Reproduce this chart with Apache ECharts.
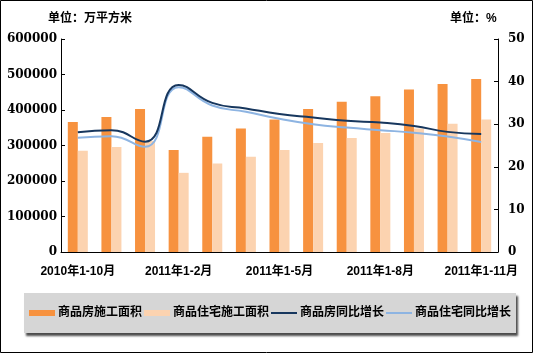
<!DOCTYPE html>
<html>
<head>
<meta charset="utf-8">
<script src="https://cdn.jsdelivr.net/npm/echarts@6/dist/echarts.min.js"></script>
<style>
  html, body { margin: 0; padding: 0; background: #fff; }
  #chart { width: 533px; height: 353px; }
</style>
</head>
<body>
<div id="chart"></div>
<script>
// 数据
const categories = ['2010年1-10月', '1-11月', '1-12月', '2011年1-2月', '1-3月', '1-4月', '2011年1-5月',
  '1-6月', '1-7月', '2011年1-8月', '1-9月', '1-10月', '2011年1-11月']
const houseArea = [366000, 380000, 403000, 287000, 325000, 348000, 373000, 403000, 423000, 439000, 458000, 473000, 487000]
const residArea = [285000, 296000, 313000, 223000, 249000, 268000, 287000, 307000, 321000, 335000, 348000, 361000, 373000]
const houseGrowth = [28.1, 28.6, 25.9, 39.2, 35.0, 33.7, 32.4, 31.6, 30.8, 30.4, 29.6, 28.2, 27.7]
const residGrowth = [26.8, 27.2, 24.7, 38.7, 34.4, 32.9, 31.3, 30.0, 29.2, 28.6, 28.0, 27.1, 25.8]

const numFont = { fontFamily: 'DejaVu Serif', fontWeight: 'bold', fontSize: 12, color: '#000' }
const cjkFont = "'Liberation Sans', 'Noto Sans CJK SC'"
// 图例里的细线
const lineIcon = 'path://M0,0L0.01,0M0,2h26v2h-26zM0,6L0.01,6'

const chart = echarts.init(document.getElementById('chart'))

chart.setOption({
  animation: false,
  backgroundColor: '#fff',
  textStyle: { fontFamily: cjkFont },
  graphic: [
    {
      type: 'rect',
      shape: { x: 0.5, y: 0.5, width: 532, height: 352 },
      style: { fill: 'none', stroke: '#000', lineWidth: 1 },
      silent: true,
    },
    {
      type: 'text',
      left: 48,
      top: 13,
      style: { text: '单位：万平方米', font: 'bold 12px ' + cjkFont, fill: '#000' },
    },
    {
      type: 'text',
      left: 450,
      top: 13,
      style: { text: '单位：%', font: 'bold 12px ' + cjkFont, fill: '#000' },
    },
  ],
  grid: {
    left: 61,
    right: 35,
    top: 39,
    bottom: 101,
  },
  legend: {
    left: 24,
    top: 293,
    width: 486,
    height: 40,
    padding: [14, 5, 14, 5],
    itemGap: 2,
    itemWidth: 26,
    itemHeight: 6,
    backgroundColor: '#d6d6d6',
    shadowColor: 'rgba(0,0,0,0.7)',
    shadowBlur: 2,
    shadowOffsetX: 2,
    shadowOffsetY: 3,
    textStyle: { fontFamily: cjkFont, fontWeight: 'bold', fontSize: 12, color: '#000', padding: [0, 0, 0, -2] },
    data: [
      { name: '商品房施工面积', icon: 'rect' },
      { name: '商品住宅施工面积', icon: 'rect' },
      { name: '商品房同比增长', icon: lineIcon },
      { name: '商品住宅同比增长', icon: lineIcon },
    ],
  },
  xAxis: {
    type: 'category',
    data: categories,
    axisLine: { lineStyle: { color: '#000', width: 1 } },
    axisTick: {
      length: 4,
      lineStyle: { color: '#000' },
      interval: (i) => i % 2 === 1,
    },
    axisLabel: {
      interval: (i) => i % 3 === 0,
      margin: 14,
      fontFamily: cjkFont,
      fontWeight: 'bold',
      fontSize: 12,
      color: '#000',
    },
  },
  yAxis: [
    {
      type: 'value',
      min: 0,
      max: 600000,
      interval: 100000,
      splitLine: { show: false },
      axisLine: { show: true, lineStyle: { color: '#000' } },
      axisTick: { show: true, inside: true, length: 4, lineStyle: { color: '#000' } },
      axisLabel: Object.assign({ margin: 4, formatter: (v) => String(v) }, numFont),
    },
    {
      type: 'value',
      min: 0,
      max: 50,
      interval: 10,
      position: 'right',
      splitLine: { show: false },
      axisLine: { show: true, lineStyle: { color: '#000' } },
      axisTick: { show: true, inside: true, length: 4, lineStyle: { color: '#000' } },
      axisLabel: Object.assign({ margin: 10 }, numFont),
    },
  ],
  series: [
    {
      name: '商品房施工面积',
      type: 'bar',
      data: houseArea,
      barWidth: 10,
      barGap: '0%',
      itemStyle: { color: '#F7923F' },
    },
    {
      name: '商品住宅施工面积',
      type: 'bar',
      data: residArea,
      barWidth: 10,
      itemStyle: { color: '#FCD3B0' },
    },
    {
      name: '商品房同比增长',
      type: 'line',
      yAxisIndex: 1,
      data: houseGrowth,
      smooth: true,
      symbol: 'none',
      lineStyle: { color: '#17375E', width: 2 },
      itemStyle: { color: '#17375E' },
      z: 3,
    },
    {
      name: '商品住宅同比增长',
      type: 'line',
      yAxisIndex: 1,
      data: residGrowth,
      smooth: true,
      symbol: 'none',
      lineStyle: { color: '#8DB4E2', width: 2 },
      itemStyle: { color: '#8DB4E2' },
      z: 2,
    },
  ],
})
</script>
</body>
</html>
